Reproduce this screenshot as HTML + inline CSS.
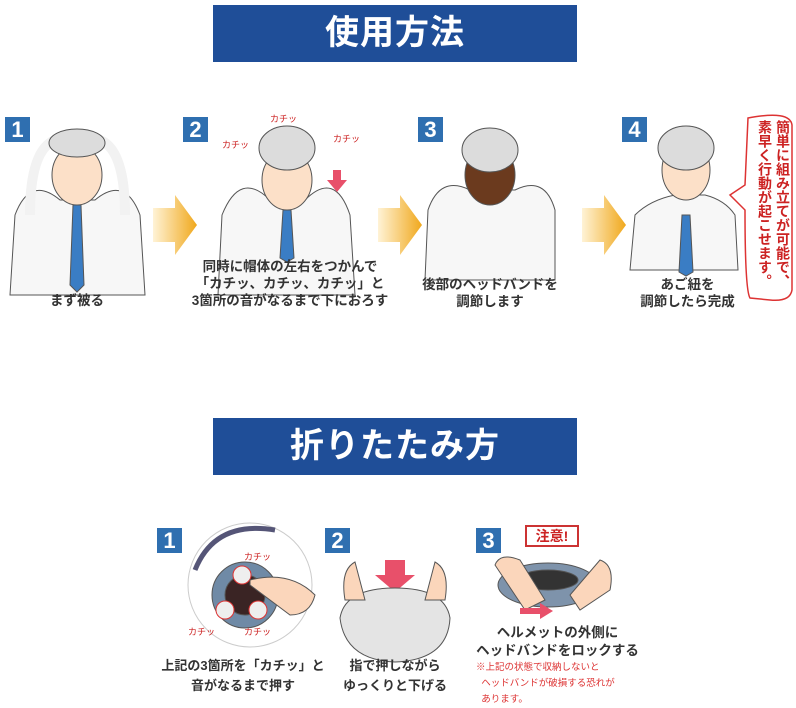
<!DOCTYPE html>
<html><head><meta charset="utf-8"><style>
body{margin:0;width:796px;height:706px;background:#fff;position:relative;overflow:hidden;font-family:"Liberation Sans","Noto Sans CJK JP",sans-serif;}
.ban{position:absolute;left:213px;width:364px;height:57px;background:#1f4e98;color:#fff;font-weight:bold;font-size:34px;text-align:center;line-height:57px;letter-spacing:1px}
.n{position:absolute;width:25px;height:25px;background:#2f6fb0;color:#fff;font-weight:bold;font-size:22px;text-align:center;line-height:25px}
.t{position:absolute;font-size:13.5px;font-weight:bold;color:#333;text-align:center;line-height:17px;white-space:nowrap}
svg{position:absolute;left:0;top:0}
</style></head><body>
<svg width="796" height="706">
<defs><linearGradient id="og" x1="0" x2="1"><stop offset="0" stop-color="#fff3d6"/><stop offset="1" stop-color="#f0a81c"/></linearGradient></defs>
<polygon points="153,208 175,208 175,195 197,225 175,255 175,242 153,242" fill="url(#og)"/>
<polygon points="378,208 400,208 400,195 422,225 400,255 400,242 378,242" fill="url(#og)"/>
<polygon points="582,208 604,208 604,195 626,225 604,255 604,242 582,242" fill="url(#og)"/>
<g stroke="#555" stroke-width="1">
<path d="M10,295 L15,215 Q30,175 60,200 L95,200 Q125,175 140,215 L145,295Z" fill="#f7f7f7"/>
<path d="M30,215 Q30,150 55,140 L100,140 Q125,150 125,215" fill="none" stroke-width="10" stroke="#f2f2f2"/>
<ellipse cx="77" cy="175" rx="25" ry="30" fill="#fce0c8"/>
<ellipse cx="77" cy="143" rx="28" ry="14" fill="#dcdcdc"/>
<polygon points="73,205 81,205 84,285 77,292 70,285" fill="#3a7dc4"/>
<path d="M218,295 L222,215 Q240,170 270,200 L305,200 Q335,170 350,215 L355,295Z" fill="#f7f7f7"/>
<ellipse cx="287" cy="180" rx="25" ry="30" fill="#fce0c8"/>
<ellipse cx="287" cy="148" rx="28" ry="22" fill="#dcdcdc"/>
<polygon points="283,210 291,210 294,258 287,262 280,258" fill="#3a7dc4"/>
<path d="M425,280 L428,210 Q440,175 470,190 L515,190 Q545,175 555,210 L555,280Z" fill="#f7f7f7"/>
<ellipse cx="490" cy="175" rx="25" ry="30" fill="#6b3a1e"/>
<ellipse cx="490" cy="150" rx="28" ry="22" fill="#dcdcdc"/>
<path d="M630,270 L635,215 Q650,200 675,195 L705,195 Q725,200 735,215 L738,270Z" fill="#f7f7f7"/>
<ellipse cx="686" cy="170" rx="24" ry="30" fill="#fce0c8"/>
<ellipse cx="686" cy="148" rx="28" ry="22" fill="#dcdcdc"/>
<polygon points="682,215 690,215 693,272 686,276 679,272" fill="#3a7dc4"/>
<path d="M748,118 Q790,110 792,125 L792,290 Q790,302 770,300 L750,298 Q745,290 745,210 L730,195 L745,185Z" fill="#fff" stroke="#d33" stroke-width="1.5"/>
<ellipse cx="250" cy="585" rx="62" ry="62" fill="#fff" stroke="#ccc"/>
<path d="M195,570 Q215,520 275,530" fill="none" stroke="#557" stroke-width="5"/>
<circle cx="245" cy="595" r="33" fill="#6f8aa6"/>
<circle cx="245" cy="595" r="20" fill="#3a2424"/>
<circle cx="242" cy="575" r="9" fill="#eee" stroke="#d33"/>
<circle cx="225" cy="610" r="9" fill="#eee" stroke="#d33"/>
<circle cx="258" cy="610" r="9" fill="#eee" stroke="#d33"/>
<path d="M250,580 Q290,570 315,595 Q310,615 290,615 Q270,600 250,585Z" fill="#fbd6bb"/>
<polygon points="385,560 405,560 405,575 415,575 395,592 375,575 385,575" fill="#e8506a" stroke="none"/>
<path d="M340,618 Q345,588 395,588 Q445,588 450,618 Q448,660 395,662 Q345,660 340,618Z" fill="#e4e4e4"/>
<path d="M345,600 Q340,570 355,562 L365,600Z M445,600 Q450,570 435,562 L425,600Z" fill="#fbd6bb"/>
<ellipse cx="548" cy="585" rx="50" ry="22" fill="#7e93ab"/>
<ellipse cx="548" cy="580" rx="30" ry="10" fill="#333"/>
<path d="M495,565 Q500,552 520,560 L545,600 L525,610Z M600,560 Q615,565 610,590 L580,610 L570,595Z" fill="#fbd6bb"/>
<polygon points="520,608 540,608 540,603 553,611 540,619 540,614 520,614" fill="#e8506a" stroke="none"/>
<rect x="526" y="526" width="52" height="20" fill="#fff" stroke="#c33" stroke-width="2"/>
</g>
<g font-family="Liberation Sans,Noto Sans CJK JP,sans-serif" font-size="9" fill="#c22">
<text x="222" y="148">カチッ</text><text x="270" y="122">カチッ</text><text x="333" y="142">カチッ</text>
<text x="244" y="560">カチッ</text><text x="188" y="635">カチッ</text><text x="244" y="635">カチッ</text>
</g>
<polygon points="333,170 341,170 341,180 347,180 337,192 327,180 333,180" fill="#e8506a"/>
</svg>
<div class="ban" style="top:5px">使用方法</div>
<div class="ban" style="top:418px">折りたたみ方</div>
<div class="n" style="left:5px;top:117px">1</div>
<div class="n" style="left:183px;top:117px">2</div>
<div class="n" style="left:418px;top:117px">3</div>
<div class="n" style="left:622px;top:117px">4</div>
<div class="n" style="left:157px;top:528px">1</div>
<div class="n" style="left:325px;top:528px">2</div>
<div class="n" style="left:476px;top:528px">3</div>
<div style="position:absolute;left:527px;top:527px;width:50px;text-align:center;color:#c22;font-weight:bold;font-size:14px;line-height:18px">注意!</div>
<div class="t" style="left:37px;top:292px;width:80px">まず被る</div>
<div class="t" style="left:160px;top:258px;width:260px">同時に帽体の左右をつかんで<br>「カチッ、カチッ、カチッ」と<br>3箇所の音がなるまで下におろす</div>
<div class="t" style="left:410px;top:276px;width:160px">後部のヘッドバンドを<br>調節します</div>
<div class="t" style="left:620px;top:276px;width:135px">あご紐を<br>調節したら完成</div>
<div style="position:absolute;left:752px;top:120px;width:40px;font-size:14px;font-weight:bold;color:#c22;writing-mode:vertical-rl;line-height:18px;height:180px">簡単に組み立てが可能で、素早く行動が起こせます。</div>
<div class="t" style="left:150px;top:656px;width:186px;font-size:13px;line-height:20px">上記の3箇所を「カチッ」と<br>音がなるまで押す</div>
<div class="t" style="left:340px;top:656px;width:110px;font-size:13px;line-height:20px">指で押しながら<br>ゆっくりと下げる</div>
<div class="t" style="left:470px;top:624px;width:175px;font-size:13.5px;line-height:18px">ヘルメットの外側に<br>ヘッドバンドをロックする</div>
<div style="position:absolute;left:476px;top:660px;font-size:9.5px;color:#d33;line-height:16px;white-space:nowrap">※上記の状態で収納しないと<br>&nbsp;&nbsp;ヘッドバンドが破損する恐れが<br>&nbsp;&nbsp;あります。</div>
</body></html>
